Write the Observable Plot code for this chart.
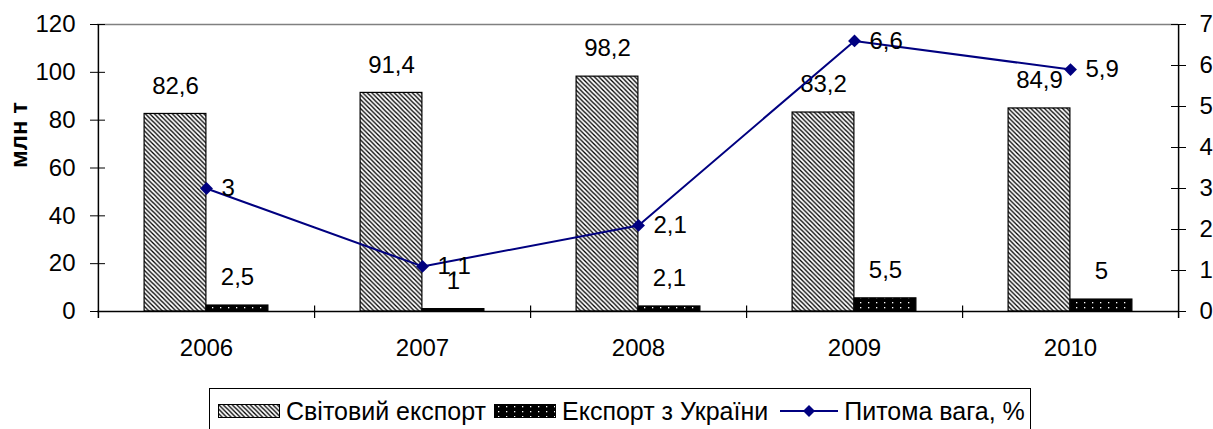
<!DOCTYPE html>
<html>
<head>
<meta charset="utf-8">
<script src="https://cdn.jsdelivr.net/npm/d3@7"></script>
<script src="https://cdn.jsdelivr.net/npm/@observablehq/plot@0.6"></script>
<style>
  html, body { margin: 0; padding: 0; background: #fff; overflow: hidden; }
  #wrap { position: relative; width: 1213px; height: 429px; font-family: "Liberation Sans", Arial, sans-serif; }
  #legend { position: absolute; left: 209px; top: 388px; width: 822px; height: 50px; border: 1.5px solid #000; background: #fff; box-sizing: border-box; font-size: 25px; color: #000; display: flex; align-items: flex-start; padding: 8px 0 0 8px; white-space: nowrap; }
  #legend .it { line-height: 28px; }
  #legend svg { flex: none; margin-top: 7px; }
</style>
</head>
<body>
<svg width="0" height="0" style="position:absolute">
  <defs>
    <pattern id="hatch" patternUnits="userSpaceOnUse" width="4.5" height="4.5">
      <rect width="4.5" height="4.5" fill="#fff"/>
      <path d="M-1,-1 L5.5,5.5 M-1,3.5 L1,5.5 M3.5,-1 L5.5,1" stroke="#000" stroke-width="1.3"/>
    </pattern>
    <pattern id="dots" patternUnits="userSpaceOnUse" width="8" height="5">
      <rect width="8" height="5" fill="#000"/>
      <rect x="4" y="2" width="1.3" height="1.3" fill="#fff"/>
    </pattern>
  </defs>
</svg>
<div id="wrap">
  <div id="chart"></div>
  <div id="legend">
    <svg width="63" height="15" style="margin-right:5px"><rect x="0.5" y="0.5" width="61" height="13" fill="url(#hatch)" stroke="#000"/></svg>
    <span class="it" style="margin-right:8px">Світовий експорт</span>
    <svg width="63" height="15" style="margin-right:5px"><rect x="0.5" y="0.5" width="61" height="13" fill="url(#dots)" stroke="#000"/></svg>
    <span class="it" style="margin-right:12px">Експорт з України</span>
    <svg width="58" height="16" style="margin-right:6px;margin-top:6px"><line x1="0" y1="8" x2="58" y2="8" stroke="#000080" stroke-width="2"/><path d="M29,2 L35,8 L29,14 L23,8 Z" fill="#000080"/></svg>
    <span class="it">Питома вага, %</span>
  </div>
</div>
<script>
const years = ["2006", "2007", "2008", "2009", "2010"];
const worldExport = [82.6, 91.4, 98.2, 83.2, 84.9];
const ukraineExport = [2.5, 1, 2.1, 5.5, 5];
const sharePct = [3, 1.1, 2.1, 6.6, 5.9];
const leftTicks = [0, 20, 40, 60, 80, 100, 120];
const rightTicks = [0, 1, 2, 3, 4, 5, 6, 7];

const W = 1213, ML = 97, MR = 35, MT = 24, MB = 69, H = 380;
const bw = (W - ML - MR) / years.length;
const barW = 62;
const FS = 24;
const k = 120 / 7; // right axis (0–7) mapped onto left axis (0–120)
const below = (7 / (H - MT - MB)) * 120; // ~7px below zero in data units
const fmt = v => String(v).replace(".", ",");

const data = years.map((year, i) => ({
  year, world: worldExport[i], ukraine: ukraineExport[i], share: sharePct[i]
}));

const chart = Plot.plot({
  width: W, height: H,
  marginLeft: ML, marginRight: MR, marginTop: MT, marginBottom: MB,
  x: {type: "band", domain: years, padding: 0, axis: null},
  y: {domain: [0, 120], axis: null},
  style: {fontFamily: "'Liberation Sans', Arial, sans-serif", fontSize: FS + "px", color: "#000", background: "#fff", overflow: "visible"},
  marks: [
    Plot.ruleY([120], {stroke: "#808080", strokeWidth: 1.5}),
    Plot.barY(data, {x: "year", y: "world", fill: "url(#hatch)", stroke: "#000", strokeWidth: 1.2, insetLeft: bw / 2 - barW, insetRight: bw / 2}),
    Plot.barY(data, {x: "year", y: "ukraine", fill: "url(#dots)", stroke: "#000", strokeWidth: 1.2, insetLeft: bw / 2, insetRight: bw / 2 - barW}),
    Plot.ruleY([0], {stroke: "#000", strokeWidth: 1.5}),
    // vertical axis lines
    Plot.ruleX([years[0]], {dx: -bw / 2, y1: -below, y2: 120, stroke: "#000", strokeWidth: 1.5}),
    Plot.ruleX([years[years.length - 1]], {dx: bw / 2, y1: -below, y2: 120, stroke: "#000", strokeWidth: 1.5}),
    // category boundary ticks
    Plot.ruleX(years.slice(0, -1), {dx: bw / 2, y1: -below, y2: below * 0.8, stroke: "#000", strokeWidth: 1.2}),
    // x tick labels
    Plot.text(data, {x: "year", frameAnchor: "bottom", text: "year", dy: 37, lineAnchor: "middle", fontSize: FS}),
    // left axis
    Plot.axisY(leftTicks, {anchor: "left", tickSize: 15, dx: 8, tickPadding: 15, label: null, tickFormat: d => String(d), fontSize: FS}),
    // right axis
    Plot.axisY(rightTicks.map(v => v * k), {anchor: "right", tickSize: 15, dx: -8, tickPadding: 14, label: null, tickFormat: d => String(Math.round(d / k)), fontSize: FS}),
    // y label
    Plot.text(["млн т"], {frameAnchor: "left", text: d => d, rotate: -90, dx: -78, fontWeight: "bold", fontSize: 24}),
    // bar labels
    Plot.text(data, {x: "year", y: "world", text: d => fmt(d.world), dx: -barW / 2, dy: -28, fontSize: FS}),
    Plot.text(data, {x: "year", y: "ukraine", text: d => fmt(d.ukraine), dx: barW / 2, dy: -28, fontSize: FS}),
    // share line
    Plot.line(data, {x: "year", y: d => d.share * k, stroke: "#000080", strokeWidth: 2}),
    Plot.dot(data, {x: "year", y: d => d.share * k, symbol: "diamond2", r: 5.8, fill: "#000080", stroke: "none"}),
    Plot.text(data, {x: "year", y: d => d.share * k, text: d => fmt(d.share), dx: 15, textAnchor: "start", fontSize: FS})
  ]
});
document.getElementById("chart").appendChild(chart);
</script>
</body>
</html>
